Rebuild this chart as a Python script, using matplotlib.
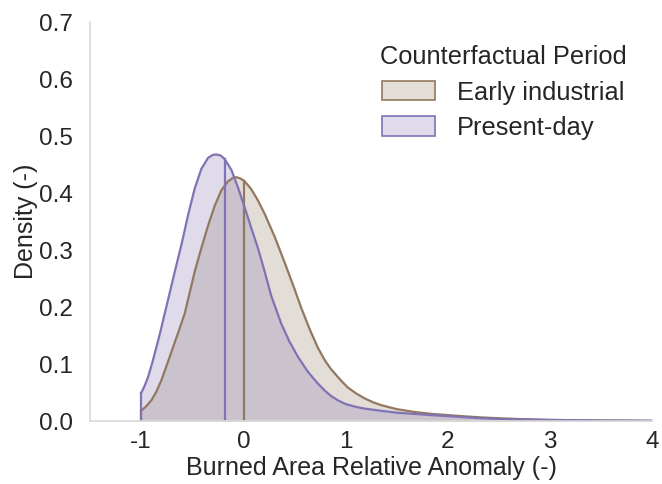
import numpy as np
import matplotlib
matplotlib.use("Agg")
import matplotlib.pyplot as plt
from matplotlib.patches import Patch

plt.rcParams['font.family'] = ['Liberation Sans', 'DejaVu Sans']
plt.rcParams['axes.unicode_minus'] = False

# Early industrial density curve
early_x = [-1.0, -0.95, -0.898, -0.85, -0.801, -0.745, -0.687, -0.63, -0.573, -0.540,
           -0.476, -0.410, -0.345, -0.280, -0.215, -0.149, -0.10, -0.068, -0.03, 0.013,
           0.078, 0.144, 0.208, 0.306, 0.403, 0.501, 0.566, 0.65, 0.729, 0.80, 0.859,
           0.957, 1.022, 1.10, 1.185, 1.27, 1.348, 1.5, 1.673, 1.85, 1.999, 2.15, 2.324,
           2.5, 2.715, 3.0, 3.5, 4.0]
early_y = [0.018, 0.026, 0.037, 0.052, 0.072, 0.100, 0.130, 0.159, 0.189, 0.214,
           0.262, 0.304, 0.343, 0.378, 0.405, 0.421, 0.427, 0.428, 0.426, 0.421,
           0.407, 0.387, 0.364, 0.324, 0.279, 0.232, 0.199, 0.161, 0.129, 0.106, 0.091,
           0.071, 0.059, 0.049, 0.040, 0.033, 0.028, 0.021, 0.016, 0.0125, 0.0105, 0.0085, 0.0065,
           0.005, 0.0035, 0.002, 0.001, 0.0005]

# Present-day density curve
present_x = [-1.0, -0.965, -0.931, -0.89, -0.850, -0.81, -0.769, -0.735, -0.671, -0.605,
             -0.540, -0.476, -0.410, -0.345, -0.30, -0.264, -0.22, -0.183, -0.117, -0.052,
             0.013, 0.078, 0.144, 0.208, 0.273, 0.371, 0.45, 0.534, 0.63, 0.729, 0.80,
             0.859, 0.93, 1.0, 1.1, 1.185, 1.35, 1.511, 1.836, 2.1, 2.324, 2.6,
             3.0, 3.5, 4.0]
present_y = [0.049, 0.062, 0.078, 0.103, 0.130, 0.158, 0.189, 0.214, 0.262, 0.310,
             0.362, 0.408, 0.443, 0.462, 0.467, 0.468, 0.466, 0.460, 0.441, 0.410,
             0.375, 0.339, 0.303, 0.263, 0.220, 0.171, 0.140, 0.113, 0.087, 0.066, 0.053,
             0.044, 0.036, 0.030, 0.025, 0.022, 0.018, 0.0146, 0.0105, 0.0075, 0.0050, 0.003,
             0.002, 0.001, 0.0005]

early_center = 0.007
present_center = -0.183

labels = ["Early industrial", "Present-day"]
colors = ["#937860", "#8172B3"]
xticks = [-1, 0, 1, 2, 3, 4]
yticks = [0.0, 0.1, 0.2, 0.3, 0.4, 0.5, 0.6, 0.7]

fig = plt.figure(figsize=(6.62, 4.84), dpi=100)
ax = fig.add_axes([0.136, 0.13, 0.849, 0.824])

series = [(early_x, early_y, early_center), (present_x, present_y, present_center)]
for (xs, ys, c), col in zip(series, colors):
    ax.fill_between(xs, 0, ys, color=col, alpha=0.25, linewidth=0)
    ax.plot(xs, ys, color=col, lw=1.6, solid_joinstyle="round")
    ax.plot([xs[0], xs[0]], [0, ys[0]], color=col, lw=1.6)
    ax.plot([c, c], [0, np.interp(c, xs, ys)], color=col, lw=1.6)

ax.set_xlim(-1.5, 4)
ax.set_ylim(0, 0.7)
ax.set_xticks(xticks)
ax.set_xticklabels([str(v) for v in xticks])
ax.set_yticks(yticks)
ax.set_yticklabels([f"{v:.1f}" for v in yticks])
ax.tick_params(axis="x", length=0, labelsize=17.5, colors="#262626", pad=7)
ax.tick_params(axis="y", length=0, labelsize=17.5, colors="#262626", pad=12)
for s in ["top", "right"]:
    ax.spines[s].set_visible(False)
for s in ["left", "bottom"]:
    ax.spines[s].set_color("#d9d9d9")
    ax.spines[s].set_linewidth(1.2)
ax.set_xlabel("Burned Area Relative Anomaly (-)", fontsize=18, color="#262626", labelpad=2)
ax.set_ylabel("Density (-)", fontsize=18, color="#262626", labelpad=1)

handles = [Patch(facecolor=matplotlib.colors.to_rgba(col, 0.25), edgecolor=col, lw=1.2) for col in colors]
leg = ax.legend(handles, labels, title="Counterfactual Period", loc="upper right",
                frameon=False, fontsize=18.3, title_fontsize=18.3, handlelength=2.1,
                handleheight=0.8, handletextpad=0.85, labelspacing=0.45,
                bbox_to_anchor=(0.995, 1.0))
for t in leg.get_texts():
    t.set_color("#262626")
leg.get_title().set_color("#262626")

fig.savefig("out.png", dpi=100)
